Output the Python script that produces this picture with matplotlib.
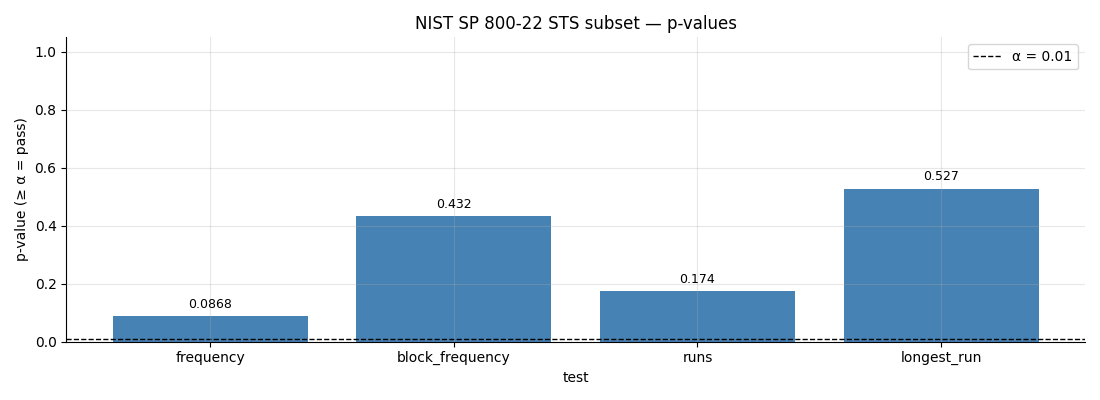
import matplotlib
matplotlib.use("Agg")
import matplotlib.pyplot as plt

tests = ["frequency", "block_frequency", "runs", "longest_run"]
p_values = [0.0868, 0.432, 0.174, 0.527]
labels = ["0.0868", "0.432", "0.174", "0.527"]
alpha = 0.01

fig, ax = plt.subplots(figsize=(11, 4), dpi=100)
bars = ax.bar(tests, p_values, color="steelblue", width=0.8)
ax.axhline(alpha, color="black", linestyle="--", linewidth=1, label="α = 0.01")
ax.bar_label(bars, labels=labels, padding=4, fontsize=9)

ax.set_ylim(0, 1.05)
ax.set_axisbelow(False)
ax.grid(True, alpha=0.3)
ax.spines["top"].set_visible(False)
ax.spines["right"].set_visible(False)
ax.set_xlabel("test")
ax.set_ylabel("p-value (≥ α = pass)")
ax.set_title("NIST SP 800-22 STS subset — p-values")
ax.legend(loc="upper right")
fig.tight_layout()
fig.savefig("out.png")
